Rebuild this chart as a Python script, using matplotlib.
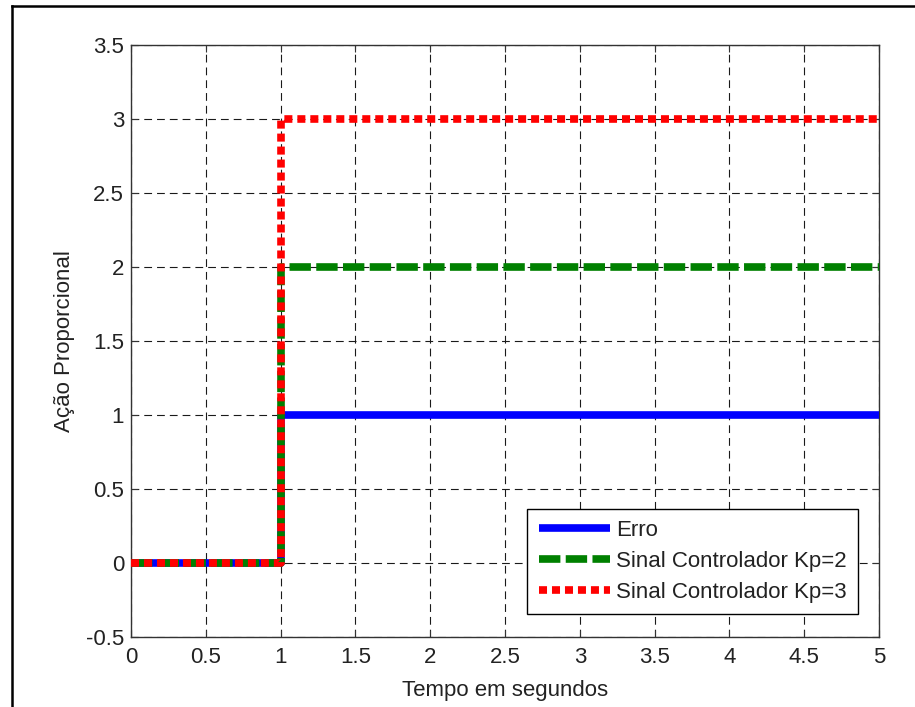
import matplotlib
matplotlib.use("Agg")
import matplotlib.pyplot as plt
from matplotlib.lines import Line2D

plt.rcParams['font.family'] = ['Liberation Sans', 'DejaVu Sans']

# Data
t = [0, 1, 1, 5]
erro = [0, 0, 1, 1]
kp2 = [0, 0, 2, 2]
kp3 = [0, 0, 3, 3]
labels = ["Erro", "Sinal Controlador Kp=2", "Sinal Controlador Kp=3"]
xticks = [0, 0.5, 1, 1.5, 2, 2.5, 3, 3.5, 4, 4.5, 5]
xticklabels = ["0", "0.5", "1", "1.5", "2", "2.5", "3", "3.5", "4", "4.5", "5"]
yticks = [-0.5, 0, 0.5, 1, 1.5, 2, 2.5, 3, 3.5]
yticklabels = ["-0.5", "0", "0.5", "1", "1.5", "2", "2.5", "3", "3.5"]

W, H = 915, 707
fig = plt.figure(figsize=(W / 100, H / 100), dpi=100)
ax = fig.add_axes([131 / W, 1 - 637 / H, (879 - 131) / W, (637 - 45) / H])

txt = '#222222'
fs = 16
lw = 5.5
ax.plot(t, erro, color='#0000ff', lw=lw, solid_capstyle='butt', label=labels[0], zorder=3)
ax.plot(t, kp2, color='#008000', lw=lw, linestyle=(0, (2.8, 0.7)), dash_capstyle='butt', label=labels[1], zorder=4)
ax.plot(t, kp3, color='#ff0000', lw=lw, linestyle=(0, (1.05, 0.65)), dash_capstyle='butt', label=labels[2], zorder=5)

ax.set_xlim(0, 5)
ax.set_ylim(-0.5, 3.5)
ax.set_xticks(xticks)
ax.set_xticklabels(xticklabels)
ax.set_yticks(yticks)
ax.set_yticklabels(yticklabels)
ax.grid(True, color='#1a1a1a', linestyle=(0, (7, 4.5)), linewidth=0.8)
ax.set_axisbelow(True)
ax.tick_params(direction='in', length=5, width=0.8, top=True, right=True,
               labelsize=fs, labelcolor=txt, color='#333333')
ax.tick_params(axis='x', pad=7)
ax.tick_params(axis='y', pad=5)
for s in ax.spines.values():
    s.set_color('#333333')
    s.set_linewidth(1.0)

ax.set_xlabel("Tempo em segundos", fontsize=fs, color=txt, labelpad=9)
ax.set_ylabel("Ação Proporcional", fontsize=fs, color=txt, labelpad=8)

leg = ax.legend(loc='lower right', bbox_to_anchor=(0.972, 0.039), fontsize=fs,
                handlelength=3.2, handletextpad=0.3, borderpad=0.5, labelspacing=0.45,
                fancybox=False, framealpha=1, edgecolor='black', borderaxespad=0)
leg.get_frame().set_linewidth(1.0)
for text in leg.get_texts():
    text.set_color(txt)

# outer frame (left and top edges)
fig.add_artist(Line2D([12 / W, 12 / W], [0, 1 - 6 / H], color='black', lw=1.8, transform=fig.transFigure))
fig.add_artist(Line2D([12 / W, 1], [1 - 6 / H, 1 - 6 / H], color='black', lw=1.8, transform=fig.transFigure))

fig.savefig("out.png", dpi=100)
